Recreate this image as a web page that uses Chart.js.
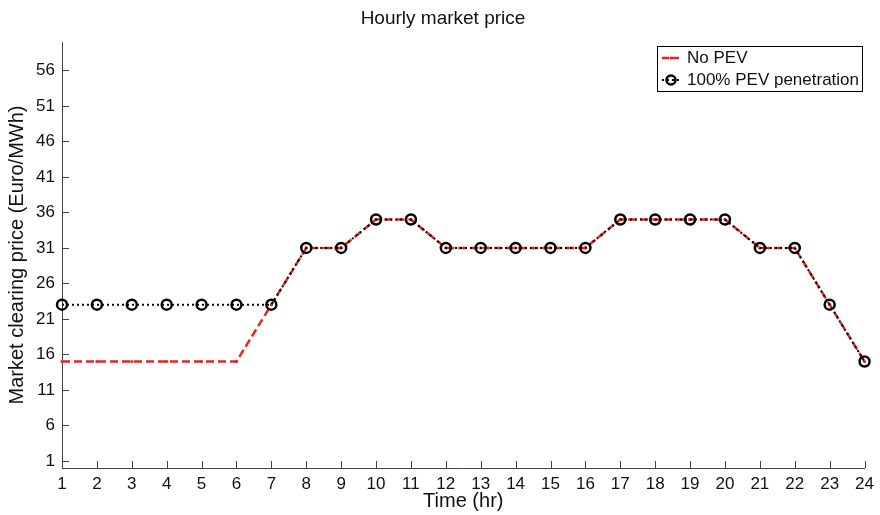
<!DOCTYPE html>
<html>
<head>
<meta charset="utf-8">
<script src="https://cdn.jsdelivr.net/npm/chart.js@4/dist/chart.umd.min.js"></script>
<style>
html,body{margin:0;padding:0;background:#fff;}
#wrap{width:880px;height:515px;}
</style>
</head>
<body>
<div id="wrap"><canvas id="c" width="880" height="515"></canvas></div>
<script>
const hours = ['1','2','3','4','5','6','7','8','9','10','11','12','13','14','15','16','17','18','19','20','21','22','23','24'];
const noPev = [15,15,15,15,15,15,23,31,31,35,35,31,31,31,31,31,35,35,35,35,31,31,23,15];
const pev100 = [23,23,23,23,23,23,23,31,31,35,35,31,31,31,31,31,35,35,35,35,31,31,23,15];
const yTickValues = [1,6,11,16,21,26,31,36,41,46,51,56];
const seriesNames = ['No PEV','100% PEV penetration'];
const chartTitle = 'Hourly market price';

const RED = 'rgb(228,38,32)';
const FONT = 'Liberation Sans, Arial, Helvetica, sans-serif';

const inwardTicks = {
  id: 'inwardTicks',
  afterDraw(chart) {
    const ctx = chart.ctx;
    const xs = chart.scales.x, ys = chart.scales.y;
    const a = chart.chartArea;
    ctx.save();
    ctx.strokeStyle = '#444';
    ctx.lineWidth = 1;
    ctx.beginPath();
    xs.ticks.forEach((t, i) => {
      const px = Math.round(xs.getPixelForTick(i)) + 0.5;
      ctx.moveTo(px, a.bottom);
      ctx.lineTo(px, a.bottom - 7);
    });
    ys.ticks.forEach((t, i) => {
      const py = Math.round(ys.getPixelForTick(i)) + 0.5;
      ctx.moveTo(a.left, py);
      ctx.lineTo(a.left + 7, py);
    });
    ctx.stroke();
    ctx.restore();
  }
};

const titleAndLegend = {
  id: 'titleAndLegend',
  afterDraw(chart) {
    const ctx = chart.ctx;
    ctx.save();
    // title
    ctx.fillStyle = '#111';
    ctx.font = '19px ' + FONT;
    ctx.textAlign = 'center';
    ctx.textBaseline = 'middle';
    ctx.fillText(chartTitle, 443, 19);
    // legend box
    const bx = 657, by = 46, bw = 205, bh = 45;
    ctx.fillStyle = '#fff';
    ctx.fillRect(bx, by, bw, bh);
    ctx.strokeStyle = '#000';
    ctx.lineWidth = 1;
    ctx.strokeRect(bx + 0.5, by + 0.5, bw, bh);
    const y1 = by + 12, y2 = by + 34;
    const lx0 = bx + 5, lx1 = bx + 24, cx = bx + 14;
    ctx.strokeStyle = RED;
    ctx.lineWidth = 2.5;
    ctx.setLineDash([7,3]);
    ctx.beginPath(); ctx.moveTo(lx0, y1); ctx.lineTo(lx1, y1); ctx.stroke();
    ctx.setLineDash([]);
    ctx.fillStyle = RED;
    ctx.beginPath(); ctx.arc(cx, y1, 1.6, 0, Math.PI*2); ctx.fill();
    ctx.strokeStyle = '#000';
    ctx.lineWidth = 2;
    ctx.setLineDash([2,3]);
    ctx.beginPath(); ctx.moveTo(lx0, y2); ctx.lineTo(lx1, y2); ctx.stroke();
    ctx.setLineDash([]);
    ctx.lineWidth = 2.5;
    ctx.beginPath(); ctx.arc(cx, y2, 4.5, 0, Math.PI*2); ctx.stroke();
    ctx.fillStyle = '#111';
    ctx.font = '17px ' + FONT;
    ctx.textBaseline = 'middle';
    ctx.textAlign = 'left';
    ctx.fillText(seriesNames[0], bx + 30, y1);
    ctx.fillText(seriesNames[1], bx + 30, y2);
    ctx.restore();
  }
};

new Chart(document.getElementById('c'), {
  type: 'line',
  data: {
    labels: hours,
    datasets: [
      {
        label: seriesNames[0],
        data: noPev,
        order: 2,
        borderColor: RED,
        backgroundColor: RED,
        borderWidth: 2.5,
        borderDash: [8,4],
        pointRadius: 1.6,
        pointBorderWidth: 0,
        pointBackgroundColor: RED,
        tension: 0,
        fill: false
      },
      {
        label: seriesNames[1],
        data: pev100,
        order: 1,
        borderColor: '#000',
        backgroundColor: 'rgba(0,0,0,0)',
        borderWidth: 2,
        borderDash: [2,3],
        pointRadius: 5,
        pointBorderWidth: 2.5,
        pointBorderColor: '#000',
        pointBackgroundColor: 'rgba(0,0,0,0)',
        tension: 0,
        fill: false
      }
    ]
  },
  options: {
    responsive: false,
    animation: false,
    devicePixelRatio: 1,
    layout: { padding: { left: 0, right: 15, top: 42, bottom: 0 } },
    plugins: {
      legend: { display: false },
      tooltip: { enabled: false },
      title: { display: false }
    },
    scales: {
      x: {
        type: 'category',
        offset: false,
        grid: { display: false, drawTicks: false },
        border: { display: true, color: '#444', width: 1 },
        ticks: { color: '#111', font: { family: FONT, size: 17 }, padding: 6, autoSkip: false, maxRotation: 0 },
        title: { display: true, text: 'Time (hr)', color: '#111', font: { family: FONT, size: 20 }, padding: { top: 0, bottom: 2 } },
        afterFit(scale) { scale.height = 47; }
      },
      y: {
        type: 'linear',
        min: 0,
        max: 60,
        grid: { display: false, drawTicks: false },
        border: { display: true, color: '#444', width: 1 },
        ticks: { color: '#111', font: { family: FONT, size: 17 }, padding: 7 },
        afterBuildTicks(scale) { scale.ticks = yTickValues.map(v => ({ value: v })); },
        title: { display: true, text: 'Market clearing price (Euro/MWh)', color: '#111', font: { family: FONT, size: 20 }, padding: { top: 5, bottom: 0 } },
        afterFit(scale) { scale.width = 62; }
      }
    }
  },
  plugins: [inwardTicks, titleAndLegend]
});
</script>
</body>
</html>
